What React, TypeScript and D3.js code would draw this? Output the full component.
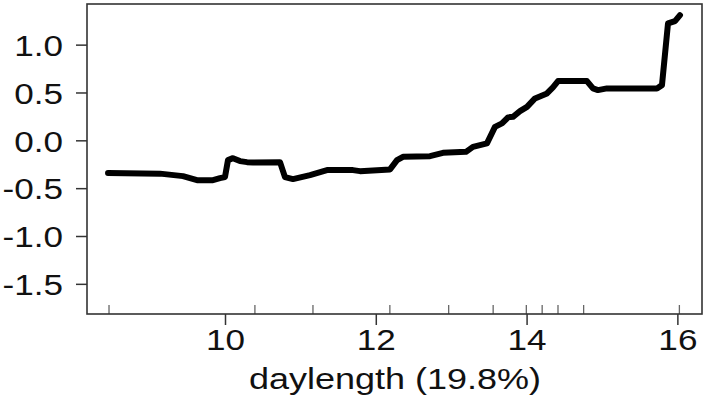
import React from "react";
import * as d3 from "d3";

// Partial dependence of the response on day length
const daylengthX = [
  8.442, 9.131, 9.436, 9.622, 9.834, 9.927, 9.993, 10.033, 10.099, 10.192,
  10.285, 10.365, 10.723, 10.789, 10.895, 11.121, 11.346, 11.691, 11.784,
  12.182, 12.275, 12.354, 12.712, 12.884, 13.19, 13.282, 13.468, 13.534,
  13.574, 13.667, 13.747, 13.813, 13.906, 13.999, 14.105, 14.264, 14.343,
  14.41, 14.794, 14.874, 14.94, 15.059, 15.723, 15.789, 15.869, 15.962, 16.028,
];
const effectY = [
  -0.337, -0.343, -0.369, -0.411, -0.411, -0.39, -0.379, -0.202, -0.181,
  -0.212, -0.223, -0.226, -0.223, -0.379, -0.4, -0.358, -0.306, -0.306,
  -0.317, -0.299, -0.202, -0.167, -0.16, -0.125, -0.115, -0.063, -0.027,
  0.08, 0.146, 0.182, 0.245, 0.251, 0.31, 0.355, 0.443, 0.495, 0.558, 0.624,
  0.624, 0.548, 0.53, 0.548, 0.548, 0.582, 1.227, 1.251, 1.313,
];
// Deciles of the observed day lengths (rug)
const rugValues = [8.455, 10.39, 11.16, 12.18, 12.96, 13.55, 13.99, 14.2, 14.41, 14.75, 16.02];
const xTicks = [10, 12, 14, 16];
const yTicks = [1.0, 0.5, 0.0, -0.5, -1.0, -1.5];
const xLabel = "daylength (19.8%)";

const W = 705;
const H = 404;
const left = 87;
const right = 702;
const top = 4;
const bottom = 314;
const axisColor = "#333";
const font = "'Liberation Sans', Arial, Helvetica, sans-serif";

export default function App() {
  const x = d3.scaleLinear().domain([8.163, 16.32]).range([left, right]);
  const y = d3.scaleLinear().domain([-1.81, 1.43]).range([bottom, top]);
  const pts: [number, number][] = daylengthX.map((d, i) => [d, effectY[i]]);
  const line = d3
    .line<[number, number]>()
    .x((d) => x(d[0]))
    .y((d) => y(d[1]));

  return (
    <svg
      width={W}
      height={H}
      style={{ position: "absolute", left: 0, top: 0, background: "#fff" }}
    >
      <rect x={0} y={0} width={W} height={H} fill="#fff" />
      {/* rug */}
      {rugValues.map((v, i) => (
        <line
          key={"r" + i}
          x1={x(v)}
          x2={x(v)}
          y1={bottom}
          y2={bottom - 9}
          stroke="#666"
          strokeWidth={1.3}
        />
      ))}
      {/* curve */}
      <path
        d={line(pts) || ""}
        fill="none"
        stroke="#000"
        strokeWidth={6}
        strokeLinejoin="round"
        strokeLinecap="round"
      />
      {/* box */}
      <rect
        x={left}
        y={top}
        width={right - left}
        height={bottom - top}
        fill="none"
        stroke={axisColor}
        strokeWidth={1.6}
      />
      {/* y axis */}
      {yTicks.map((t) => (
        <g key={"y" + t}>
          <line x1={left - 11} x2={left} y1={y(t)} y2={y(t)} stroke={axisColor} strokeWidth={1.5} />
          <text
            transform={`translate(63,${y(t) + 10.8}) scale(1.17,1)`}
            textAnchor="end"
            fontFamily={font}
            fontSize={30}
            fill="#111"
          >
            {t.toFixed(1)}
          </text>
        </g>
      ))}
      {/* x axis */}
      {xTicks.map((t) => (
        <g key={"x" + t}>
          <line x1={x(t)} x2={x(t)} y1={bottom} y2={bottom + 11} stroke={axisColor} strokeWidth={1.5} />
          <text
            transform={`translate(${x(t)},350) scale(1.17,1)`}
            textAnchor="middle"
            fontFamily={font}
            fontSize={30}
            fill="#111"
          >
            {t}
          </text>
        </g>
      ))}
      <text
        transform={`translate(395,389) scale(1.2,1)`}
        textAnchor="middle"
        fontFamily={font}
        fontSize={30}
        fill="#111"
      >
        {xLabel}
      </text>
    </svg>
  );
}
